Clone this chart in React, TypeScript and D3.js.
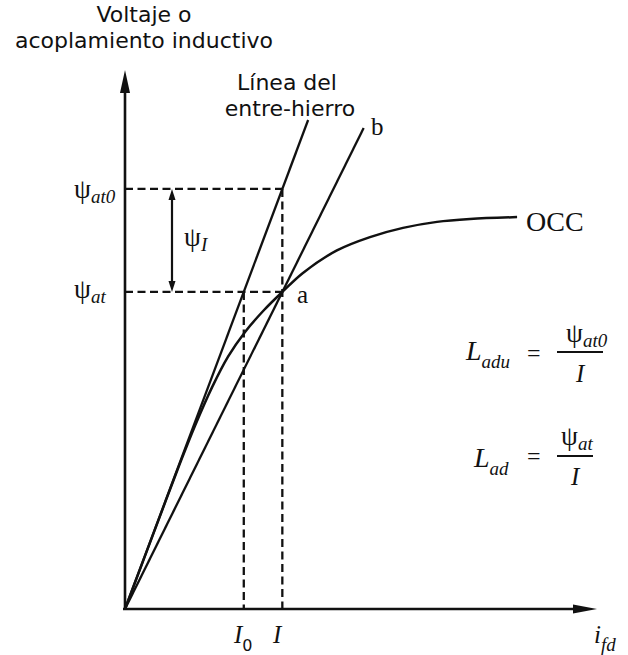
import React from "react";
import * as d3 from "d3";

const W = 628;
const H = 655;

// Open-circuit characteristic: field current (per unit of I) vs flux linkage (per unit of ψat)
const occCurrent = [0, 0.261, 0.35, 0.445, 0.553, 0.655, 0.763, 0.884, 1.0, 1.131, 1.347, 1.557, 1.767, 1.983, 2.193, 2.492];
const occFlux = [0, 0.344, 0.46, 0.578, 0.699, 0.796, 0.874, 0.943, 1.0, 1.06, 1.131, 1.173, 1.202, 1.221, 1.23, 1.236];

// Operating point "a" and the air-gap point
const currentI = 1.0;
const currentI0 = 0.755;
const fluxAt = 1.0;
const fluxAt0 = 1.325;

// Extents of the two straight lines from the origin
const airGapEnd = 1.164;
const lineBEnd = 1.517;

// Axis extents
const xDomain = [0, 3];
const yDomain = [0, 1.7];

const serif = "'Liberation Serif', 'Times New Roman', serif";
const sans = "'DejaVu Sans', sans-serif";
const ink = "#111";

export default function App() {
  const x = d3.scaleLinear().domain(xDomain).range([125, 597]);
  const y = d3.scaleLinear().domain(yDomain).range([609, 70]);

  const occ = d3
    .line<number>()
    .x((d) => x(d))
    .y((_, i) => y(occFlux[i]))
    .curve(d3.curveCatmullRom.alpha(0.5))(occCurrent) as string;

  const x0 = x(0);
  const y0 = y(0);
  const xTip = x.range()[1];
  const yTip = y.range()[1];

  const airGapSlope = fluxAt0 / currentI;
  const lineBSlope = fluxAt / currentI;

  const xI = x(currentI);
  const xI0 = x(currentI0);
  const yAt = y(fluxAt);
  const yAt0 = y(fluxAt0);
  const arrowX = 172;

  const dash = "8,4.5";

  return (
    <svg
      width={W}
      height={H}
      viewBox={`0 0 ${W} ${H}`}
      style={{ position: "absolute", left: 0, top: 0, background: "#fff" }}
    >
      {/* axes */}
      <line x1={x0} y1={y0 + 1} x2={x0} y2={yTip + 20} stroke={ink} strokeWidth={2.6} />
      <polygon points={`${x0},${yTip} ${x0 - 5},${yTip + 23} ${x0 + 5},${yTip + 23}`} fill={ink} />
      <line x1={x0 - 2} y1={y0} x2={xTip - 20} y2={y0} stroke={ink} strokeWidth={2.6} />
      <polygon points={`${xTip},${y0} ${xTip - 24},${y0 - 4.5} ${xTip - 24},${y0 + 4.5}`} fill={ink} />

      {/* dashed construction lines */}
      <g stroke={ink} strokeWidth={2.3} strokeDasharray={dash} fill="none">
        <line x1={x0} y1={yAt0} x2={xI} y2={yAt0} />
        <line x1={xI} y1={yAt0} x2={xI} y2={y0} />
        <line x1={x0} y1={yAt} x2={xI} y2={yAt} />
        <line x1={xI0} y1={yAt} x2={xI0} y2={y0} />
      </g>

      {/* air-gap line and line b */}
      <line x1={x0} y1={y0} x2={x(airGapEnd)} y2={y(airGapEnd * airGapSlope)} stroke={ink} strokeWidth={2.3} />
      <line x1={x0} y1={y0} x2={x(lineBEnd)} y2={y(lineBEnd * lineBSlope)} stroke={ink} strokeWidth={2.3} />

      {/* OCC */}
      <path d={occ} fill="none" stroke={ink} strokeWidth={2.5} />

      {/* ψI double arrow */}
      <line x1={arrowX} y1={yAt0 + 6} x2={arrowX} y2={yAt - 6} stroke={ink} strokeWidth={2.2} />
      <polygon points={`${arrowX},${yAt0} ${arrowX - 3.5},${yAt0 + 11} ${arrowX + 3.5},${yAt0 + 11}`} fill={ink} />
      <polygon points={`${arrowX},${yAt} ${arrowX - 3.5},${yAt - 11} ${arrowX + 3.5},${yAt - 11}`} fill={ink} />

      {/* sans labels */}
      <g fontFamily={sans} fontSize={22} fill={ink} textAnchor="middle">
        <text x={144} y={22}>Voltaje o</text>
        <text x={144} y={48}>acoplamiento inductivo</text>
        <text x={287} y={90}>Línea del</text>
        <text x={290} y={116}>entre-hierro</text>
      </g>

      {/* serif labels */}
      <g fontFamily={serif} fill={ink}>
        <text x={74} y={198} fontSize={27}>
          ψ<tspan fontStyle="italic" fontSize={19} dy={5}>at0</tspan>
        </text>
        <text x={74} y={298} fontSize={27}>
          ψ<tspan fontStyle="italic" fontSize={19} dy={5}>at</tspan>
        </text>
        <text x={184} y={246} fontSize={27}>
          ψ<tspan fontStyle="italic" fontSize={19} dy={5}>I</tspan>
        </text>
        <text x={297} y={303} fontSize={25}>a</text>
        <text x={371} y={135} fontSize={25}>b</text>
        <text x={526} y={231} fontSize={28}>OCC</text>

        <text x={234} y={643} fontSize={25} fontStyle="italic">
          I<tspan fontFamily={sans} fontStyle="normal" fontSize={16} dy={8}>0</tspan>
        </text>
        <text x={273} y={643} fontSize={25} fontStyle="italic">I</text>
        <text x={594} y={643} fontSize={25} fontStyle="italic">
          i<tspan fontSize={19} dy={8}>fd</tspan>
        </text>

        {/* L_adu = ψat0 / I */}
        <text x={466} y={360} fontSize={28} fontStyle="italic">
          L<tspan fontSize={19} dy={8}>adu</tspan>
        </text>
        <text x={527} y={361} fontSize={24}>=</text>
        <text x={566} y={342} fontSize={27}>
          ψ<tspan fontStyle="italic" fontSize={19} dy={5}>at0</tspan>
        </text>
        <line x1={557} y1={352} x2={603} y2={352} stroke={ink} strokeWidth={1.8} />
        <text x={576} y={382} fontSize={25} fontStyle="italic">I</text>

        {/* L_ad = ψat / I */}
        <text x={474} y={467} fontSize={28} fontStyle="italic">
          L<tspan fontSize={19} dy={8}>ad</tspan>
        </text>
        <text x={527} y={464} fontSize={24}>=</text>
        <text x={561} y={445} fontSize={27}>
          ψ<tspan fontStyle="italic" fontSize={19} dy={5}>at</tspan>
        </text>
        <line x1={557} y1={456} x2={593} y2={456} stroke={ink} strokeWidth={1.8} />
        <text x={571} y={485} fontSize={25} fontStyle="italic">I</text>
      </g>
    </svg>
  );
}
